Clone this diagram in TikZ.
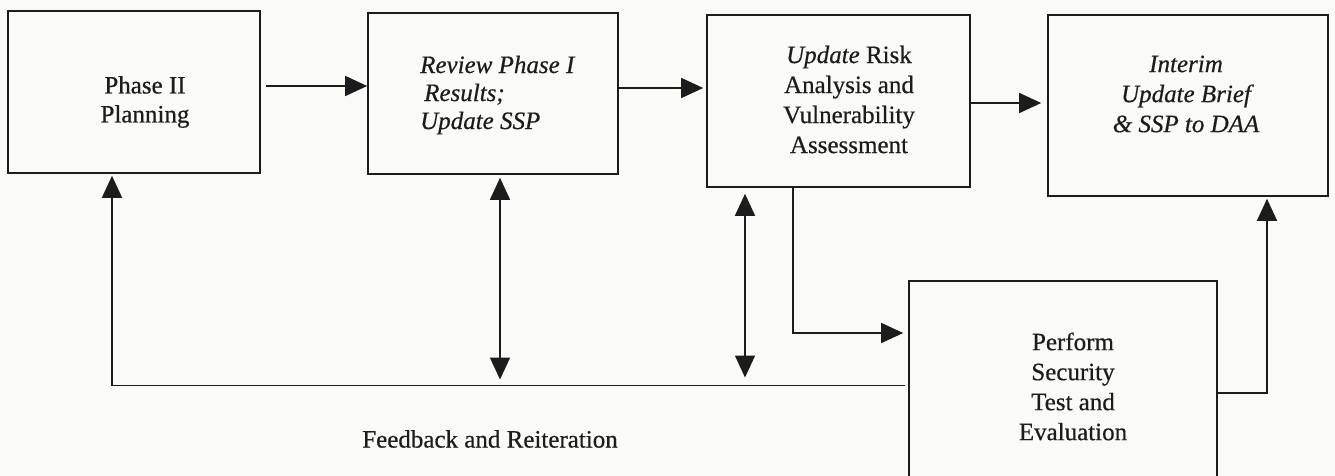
\documentclass[tikz,border=0pt]{standalone}
\usepackage{fontspec}
\setmainfont[FakeBold=0.5]{Liberation Serif}
\usetikzlibrary{arrows.meta,calc}

\definecolor{paper}{HTML}{FAFAF7}
\definecolor{ink}{HTML}{1C1C1C}

\tikzset{
  boxframe/.style={draw=ink, line width=1.6pt, rectangle, inner sep=0pt},
  boxtext/.style={text=ink, inner sep=0pt, align=center,
                  font=\fontsize{25}{30}\selectfont},
  arr/.style={draw=ink, line width=1.5pt, -{Triangle[length=22pt,width=20pt]}},
  dbl/.style={draw=ink, line width=1.5pt,
              {Triangle[length=22pt,width=20pt]}-{Triangle[length=22pt,width=20pt]}},
}

\begin{document}
\begin{tikzpicture}[x=1pt,y=-1pt]
\useasboundingbox (0,0) rectangle (1335,476);
\fill[paper] (0,0) rectangle (1335,476);

\begin{scope}
\clip (0,0) rectangle (1335,476);

% process boxes
\node[boxframe, minimum width=252pt, minimum height=162pt] (p1) at (134,92) {};
\node[boxframe, minimum width=250pt, minimum height=161pt] (p2) at (493,93.5) {};
\node[boxframe, minimum width=263pt, minimum height=172pt] (p3) at (838.5,101) {};
\node[boxframe, minimum width=280pt, minimum height=181pt] (p4) at (1188,105.5) {};
\node[boxframe, minimum width=308pt, minimum height=209pt] (p5) at (1063,385.5) {};

% box captions
\node[boxtext, font=\fontsize{25}{29}\selectfont] (t1) at (145,102) {Phase II\\Planning};
\node[boxtext, align=left, anchor=west, font=\fontsize{25}{28}\selectfont\itshape]
  (t2) at (420,95) {Review Phase I\\\hspace*{4pt}Results;\\Update SSP};
\node[boxtext] (t3) at (849,99.5) {\textit{Update} Risk\\Analysis and\\Vulnerability\\Assessment};
\node[boxtext, font=\fontsize{25}{30}\selectfont\itshape] (t4) at (1186,94)
  {Interim\\Update Brief\\\& SSP to DAA};
\node[boxtext] (t5) at (1073,386.5) {Perform\\Security\\Test and\\Evaluation};

% forward flow
\draw[arr, shorten <=5pt] ([yshift=6pt]p1.east) -- ([yshift=6pt]p1.east -| p2.west);
\draw[arr, shorten >=3pt] ([yshift=5.5pt]p2.east) -- ([yshift=5.5pt]p2.east -| p3.west);
\draw[arr, shorten >=6pt] ([yshift=-2pt]p3.east) -- ([yshift=-2pt]p3.east -| p4.west);

% feedback loop
\coordinate (loop) at ([xshift=-22pt]p1.south |- p5.west);
\draw[arr, shorten <=3pt, shorten >=2pt] (p5.west) -- (loop) -- ([xshift=-22pt]p1.south);
\draw[dbl, shorten <=3pt, shorten >=6pt] ([xshift=7pt]p2.south) -- ([xshift=7pt]p2.south |- loop);
\draw[dbl, shorten <=6pt, shorten >=8pt] ([xshift=-93.5pt]p3.south) -- ([xshift=-93.5pt]p3.south |- loop);

% test and evaluation branch
\draw[arr, shorten >=5pt] ([xshift=-45.5pt]p3.south) |- ([yshift=52.5pt]p5.west);
\draw[arr, shorten >=2pt] ([yshift=-7.5pt]p5.east) -| ([xshift=79pt]p4.south);

\node[boxtext] (fbl) at (490,439) {Feedback and Reiteration};
\end{scope}
\end{tikzpicture}
\end{document}
